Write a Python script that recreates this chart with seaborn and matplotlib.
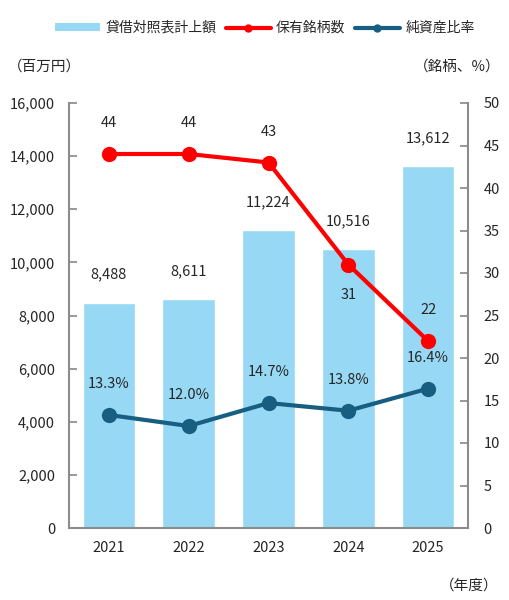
import matplotlib
matplotlib.use("Agg")
import matplotlib.pyplot as plt
import seaborn as sns
import pandas as pd
from matplotlib.lines import Line2D
from matplotlib.patches import Patch

years = ["2021", "2022", "2023", "2024", "2025"]
book_value = [8488, 8611, 11224, 10516, 13612]
holdings = [44, 44, 43, 31, 22]
nav_ratio = [13.3, 12.0, 14.7, 13.8, 16.4]
holdings_label_below = [False, False, False, True, False]

sns.set_theme(style="white")
plt.rcParams['font.family'] = ['Noto Sans CJK JP', 'DejaVu Sans']

BAR_C = "#97D9F5"
RED_C = "#FF0000"
BLUE_C = "#175E80"
SPINE_C = "#8C8C8C"
FS = 10.5

df = pd.DataFrame({"year": years, "book": book_value, "hold": holdings, "nav": nav_ratio})

fig = plt.figure(figsize=(5.09, 6.0), dpi=100)
ax = fig.add_axes([69/509, 72/600, 399/509, 425/600])
sns.barplot(data=df, x="year", y="book", color=BAR_C, width=0.66, ax=ax, saturation=1)
ax.set_ylim(0, 16000)
ax.set_yticks(range(0, 16001, 2000))
ax.set_yticklabels([f"{v:,}" for v in range(0, 16001, 2000)], fontsize=FS)
ax.set_xlabel("")
ax.set_ylabel("")
ax.tick_params(axis='x', labelsize=FS, length=0, pad=9)
ax.tick_params(axis='y', direction='in', length=6, color=SPINE_C, pad=10)

for i, v in enumerate(book_value):
    ax.annotate(f"{v:,}", (i, v), xytext=(0, 15), textcoords="offset points",
                ha="center", va="bottom", fontsize=FS)

ax2 = ax.twinx()
x = list(range(len(years)))
sns.lineplot(x=x, y=holdings, ax=ax2, color=RED_C, lw=3, marker="o", markersize=11,
             markeredgewidth=0)
sns.lineplot(x=x, y=nav_ratio, ax=ax2, color=BLUE_C, lw=3, marker="o", markersize=11,
             markeredgewidth=0)
ax2.set_ylim(0, 50)
ax2.set_yticks(range(0, 51, 5))
ax2.set_yticklabels([str(v) for v in range(0, 51, 5)], fontsize=FS)
ax2.tick_params(axis='y', direction='in', length=6, color=SPINE_C, pad=11)
ax2.set_xlim(-0.5, 4.5)

for i, v in enumerate(holdings):
    if holdings_label_below[i]:
        ax2.annotate(str(v), (i, v), xytext=(0, -17), textcoords="offset points",
                     ha="center", va="top", fontsize=FS)
    else:
        ax2.annotate(str(v), (i, v), xytext=(0, 17), textcoords="offset points",
                     ha="center", va="bottom", fontsize=FS)
for i, v in enumerate(nav_ratio):
    ax2.annotate(f"{v:.1f}%", (i, v), xytext=(0, 17), textcoords="offset points",
                 ha="center", va="bottom", fontsize=FS)

for a in (ax, ax2):
    a.spines["top"].set_visible(False)
    for s in ["left", "right", "bottom"]:
        a.spines[s].set_color(SPINE_C)
        a.spines[s].set_linewidth(1.5)
ax.spines["right"].set_visible(False)
ax2.spines["left"].set_visible(False)
ax2.spines["bottom"].set_visible(False)

fig.text(8/509, 1 - 67/600, "（百万円）", fontsize=FS, va="center", ha="left")
fig.text(500/509, 1 - 67/600, "（銘柄、%）", fontsize=FS, va="center", ha="right")
fig.text(498/509, 1 - 586/600, "（年度）", fontsize=FS, va="center", ha="right")

handles = [
    Patch(facecolor=BAR_C, edgecolor="none"),
    Line2D([0], [0], color=RED_C, lw=3, marker="o", markersize=5),
    Line2D([0], [0], color=BLUE_C, lw=3, marker="o", markersize=5),
]
labels = ["貸借対照表計上額", "保有銘柄数", "純資産比率"]
fig.legend(handles, labels, loc="center", bbox_to_anchor=(265/509, 1 - 28/600), ncol=3,
           frameon=False, fontsize=10, handlelength=3.2, columnspacing=0.7,
           handletextpad=0.4, handleheight=0.5)

fig.savefig("out.png", dpi=100)
